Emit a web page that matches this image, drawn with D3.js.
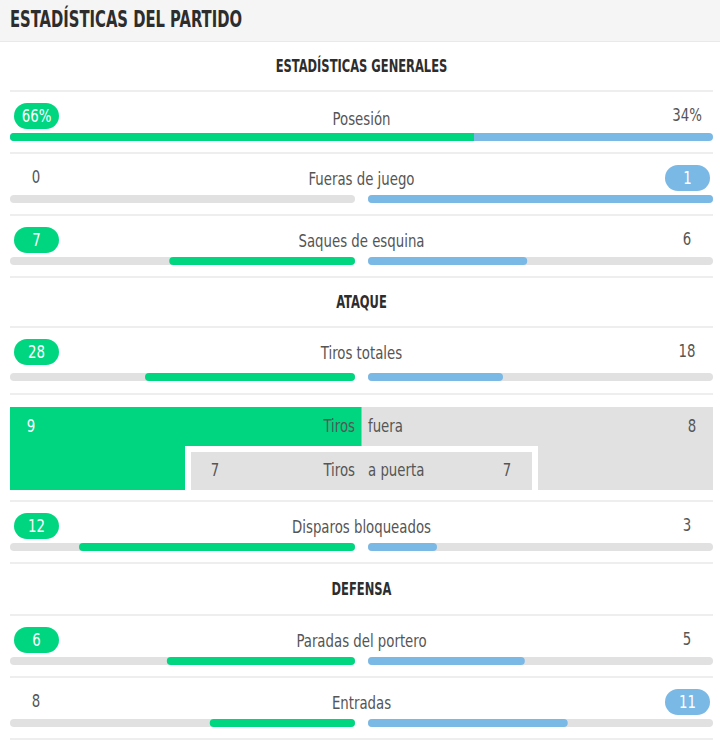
<!DOCTYPE html>
<html><head><meta charset="utf-8">
<script src="https://cdn.jsdelivr.net/npm/d3@7/dist/d3.min.js"></script>
<style>
html,body{margin:0;padding:0;background:#fff;}
svg{display:block;font-family:"Liberation Sans Narrow","DejaVu Sans Condensed","Noto Sans",sans-serif;}
</style></head>
<body><svg id="c" width="720" height="745"></svg>
<script>
// ---- data ----
const title = "ESTADÍSTICAS DEL PARTIDO";
const sections = ["ESTADÍSTICAS GENERALES", "ATAQUE", "DEFENSA"];
const statLabels = ["Posesión", "Fueras de juego", "Saques de esquina", "Tiros totales", "Disparos bloqueados", "Paradas del portero", "Entradas"];
const statSection = [0, 0, 0, 1, 1, 2, 2];
const homeValues = [66, 0, 7, 28, 12, 6, 8];
const awayValues = [34, 1, 6, 18, 3, 5, 11];
const shotLabels = ["fuera", "a puerta"];
const shotHome = [9, 7];
const shotAway = [8, 7];

// ---- layout ----
const C = {green:"#00d680", blue:"#7ab8e6", track:"#e1e1e1", line:"#eeeeee", text:"#555", dark:"#2d2d2d"};
const L = 10, R = 713, MID = 361.5, GAP = 6.5;
const svg = d3.select("#c");

function condense(sel, f){
  const n = sel.node();
  const len = n.getComputedTextLength();
  sel.attr("textLength", len*f).attr("lengthAdjust","spacingAndGlyphs");
  return sel;
}

// header
svg.append("rect").attr("x",0).attr("y",0).attr("width",720).attr("height",41).attr("fill","#f5f5f5");
svg.append("line").attr("x1",0).attr("x2",720).attr("y1",41.5).attr("y2",41.5).attr("stroke","#e9e9e9");
svg.append("text").attr("x",L).attr("y",27).attr("font-size",23.5).attr("font-weight","bold")
  .attr("fill",C.dark).attr("textLength",232).attr("lengthAdjust","spacingAndGlyphs").text(title);

function sep(y){
  svg.append("line").attr("x1",L).attr("x2",R).attr("y1",y).attr("y2",y).attr("stroke",C.line).attr("stroke-width",2);
}

// block sequence
const blocks = [];
let cur = -1;
statLabels.forEach((lab,i)=>{
  if(statSection[i]!==cur){ cur=statSection[i]; blocks.push({type:"section", s:cur}); }
  blocks.push({type:"stat", i});
  if(i===3) blocks.push({type:"shots"});
});
const heights = {section:50, stat:62, shots:107};
let y = 41;

const half = 345;
const LF = 0.87; // condensing factor for labels
function label(x, yc, txt, anchor, fill){
  const t = svg.append("text").attr("x",x).attr("y",yc).attr("dy","0.36em").attr("text-anchor",anchor||"middle")
    .attr("font-size",17).attr("fill",fill||C.text).text(txt);
  return condense(t, LF);
}
function pill(x, yc, fill, txt){
  svg.append("rect").attr("x",x-22).attr("y",yc-13).attr("width",45).attr("height",26).attr("rx",13).attr("fill",fill);
  label(x+0.5, yc, txt, "middle", "#fff");
}
function val(x, yc, txt){ label(x, yc - 1, txt, "middle", C.text); }

blocks.forEach((b,bi)=>{
  let h = heights[b.type];
  if(b.type==="section"){
    if(b.s===2) h = 52;
    const t = svg.append("text").attr("x",MID).attr("y",y+h/2 - 0.5).attr("dy","0.36em").attr("text-anchor","middle")
      .attr("font-size",17.5).attr("font-weight","bold").attr("fill",C.dark).text(sections[b.s]);
    condense(t, 0.73);
  } else if(b.type==="stat"){
    const i = b.i, hv = homeValues[i], av = awayValues[i];
    if(i===3) h = 67;
    const yv = y + 25, yb = y + (i===3?50:46);
    const pct = i===0;
    const ht = pct ? hv+"%" : String(hv), at = pct ? av+"%" : String(av);
    if(hv>av) pill(36, yv, C.green, ht); else val(36, yv, ht);
    if(av>hv) pill(687, yv, C.blue, at); else val(687, yv, at);
    label(MID, yv + (i===0?2.5:1), statLabels[i]);
    if(pct){
      const x = d3.scaleLinear().domain([0, hv+av]).range([L, R]);
      svg.append("rect").attr("x",x(0)).attr("y",yb-4).attr("width",x(hv+av)-x(0)).attr("height",8).attr("rx",4).attr("fill",C.blue);
      svg.append("rect").attr("x",x(0)).attr("y",yb-4).attr("width",x(hv)-x(0)).attr("height",8).attr("rx",4).attr("fill",C.green);
      svg.append("rect").attr("x",x(hv)-6).attr("y",yb-4).attr("width",6).attr("height",8).attr("fill",C.green);
    } else {
      const w = d3.scaleLinear().domain([0, hv+av]).range([0, half]);
      const lEnd = MID - GAP, rStart = MID + GAP;
      svg.append("rect").attr("x",L).attr("y",yb-4).attr("width",lEnd-L).attr("height",8).attr("rx",4).attr("fill",C.track);
      svg.append("rect").attr("x",rStart).attr("y",yb-4).attr("width",R-rStart).attr("height",8).attr("rx",4).attr("fill",C.track);
      if(hv>0) svg.append("rect").attr("x",lEnd-w(hv)).attr("y",yb-4).attr("width",w(hv)).attr("height",8).attr("rx",4).attr("fill",C.green);
      if(av>0) svg.append("rect").attr("x",rStart).attr("y",yb-4).attr("width",w(av)).attr("height",8).attr("rx",4).attr("fill",C.blue);
    }
  } else if(b.type==="shots"){
    const x = d3.scaleLinear().domain([0,1]).range([L, R]);
    const top = y + 13, bot = y + 96;
    // outer: fuera
    svg.append("rect").attr("x",x(0)).attr("y",top).attr("width",x(1)-x(0)).attr("height",bot-top).attr("fill",C.track);
    const homeWins0 = shotHome[0] > shotAway[0], awayWins0 = shotAway[0] > shotHome[0];
    if(homeWins0) svg.append("rect").attr("x",x(0)).attr("y",top).attr("width",x(0.5)-x(0)).attr("height",bot-top).attr("fill",C.green);
    if(awayWins0) svg.append("rect").attr("x",x(0.5)).attr("y",top).attr("width",x(1)-x(0.5)).attr("height",bot-top).attr("fill",C.blue);
    const ty0 = top + 19;
    label(31, ty0, shotHome[0], "middle", homeWins0?"#fff":C.text);
    label(692, ty0, shotAway[0], "middle", awayWins0?"#fff":C.text);
    label(MID-6.5, ty0, "Tiros", "end");
    label(MID+6.5, ty0, shotLabels[0], "start");
    // inner: a puerta
    const ix = d3.scaleLinear().domain([0,1]).range([191, 532]);
    const itop = top + 45;
    svg.append("rect").attr("x",ix(0)-6).attr("y",itop-6).attr("width",ix(1)-ix(0)+12).attr("height",bot-itop+6).attr("fill","#fff");
    svg.append("rect").attr("x",ix(0)).attr("y",itop).attr("width",ix(1)-ix(0)).attr("height",bot-itop).attr("fill",C.track);
    const hw1 = shotHome[1] > shotAway[1], aw1 = shotAway[1] > shotHome[1];
    if(hw1) svg.append("rect").attr("x",ix(0)).attr("y",itop).attr("width",MID-ix(0)).attr("height",bot-itop).attr("fill",C.green);
    if(aw1) svg.append("rect").attr("x",MID).attr("y",itop).attr("width",ix(1)-MID).attr("height",bot-itop).attr("fill",C.blue);
    const ty1 = itop + 18;
    label(215, ty1, shotHome[1], "middle", hw1?"#fff":C.text);
    label(507, ty1, shotAway[1], "middle", aw1?"#fff":C.text);
    label(MID-6.5, ty1, "Tiros", "end");
    label(MID+6.5, ty1, shotLabels[1], "start");
  }
  y += h;
  sep(y);
});
</script></body></html>
